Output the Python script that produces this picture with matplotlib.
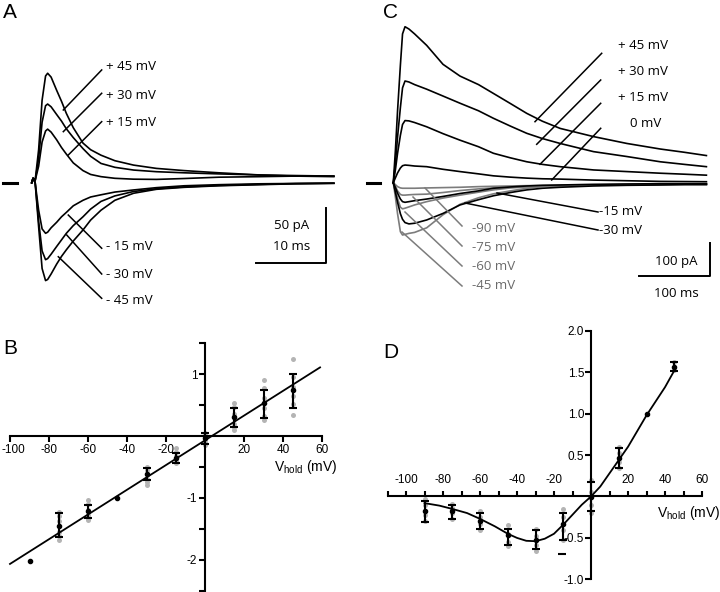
import matplotlib
matplotlib.use("Agg")
import matplotlib.pyplot as plt
from matplotlib.transforms import ScaledTranslation

plt.rcParams['axes.unicode_minus'] = False
plt.rcParams['font.family'] = ['Liberation Sans', 'DejaVu Sans']

W, H = 720, 592
GRAY = '#7c7c7c'
LIGHT = '#b4b4b4'

######################################### DANE
# panel A: time (ms), current (pA)
t_a = [0, 0.2, 0.5, 1.0, 1.5, 2.0, 2.3, 2.8, 3.6, 4.3, 5.0, 6.0, 7.4, 8.5, 10, 12, 14.7, 18, 22, 27, 33, 38, 43.6]
a_p45 = [0, 4, 2, 30, 75, 97, 99.5, 96, 84, 74, 63, 50, 36, 30, 25, 20, 16, 13, 11, 9, 7, 6.5, 6]
a_p30 = [0, 4, 2, 22, 55, 70, 71.5, 69, 62, 56, 49, 41, 31, 24, 17.5, 14, 11.5, 10, 9, 8, 7, 6, 5.5]
a_p15 = [0, 4, 2, 15, 37, 47, 48.7, 46, 39, 32, 26, 18, 11, 7.5, 5.5, 4, 3.2, 3, 3.8, 5, 5.5, 6, 6]
a_m15 = [0, 4, 0, -25, -42, -46, -45, -41, -36, -31, -27, -21, -16, -13, -11, -8.5, -6.6, -4.5, -2.8, -1.8, -1, -0.7, -0.5]
a_m30 = [0, 4, 0, -35, -62, -70, -69, -65, -58, -52, -46, -39, -31, -24, -17, -12, -8, -5.5, -3.8, -2.5, -1.5, -0.8, -0.5]
a_m45 = [0, 4, 0, -40, -78, -89, -88, -83, -74, -67, -61, -53, -43, -34, -25, -16, -9.6, -6, -4.2, -2.8, -1.8, -1, -0.5]
a_labels = ['+ 45 mV', '+ 30 mV', '+ 15 mV', '- 15 mV', '- 30 mV', '- 45 mV']

# panel C: time (ms), current (pA)
t_c = [0, 3, 6, 10, 13, 16.5, 22, 30, 47, 70, 94, 120, 141, 165, 188, 210, 235, 282, 329, 376, 410, 441]
c_p45 = [0, 100, 220, 360, 455, 477, 470, 455, 420, 362, 326, 300, 273, 242, 212, 188, 166, 141, 120, 103, 93, 83]
c_p30 = [0, 60, 140, 230, 290, 311, 308, 300, 286, 265, 243, 220, 197, 173, 151, 135, 120, 95, 80, 64, 56, 49]
c_p15 = [0, 40, 90, 145, 178, 190, 189, 184, 171, 150, 130, 110, 90, 76, 64, 56, 49, 39, 34, 29, 26, 23]
c_0 = [0, 15, 30, 45, 52, 54, 53, 51, 49, 41, 34, 27, 21, 17, 14, 12, 11, 8, 6, 4, 3.5, 3]
c_m15 = [0, -15, -32, -50, -58, -60, -58, -55, -50, -42, -33, -25, -17, -13, -10, -8, -7, -5, -4, -3, -3, -3]
c_m30 = [0, -30, -60, -95, -112, -122, -126, -124, -114, -94, -68, -52, -40, -30, -22, -17, -14, -10, -8, -7, -6, -6]
c_m45 = [0, -45, -95, -150, -160, -158, -155, -152, -138, -98, -66, -46, -34, -25, -17, -12, -9, -7, -5, -4.5, -4, -4]
c_m60 = [0, -22, -48, -75, -80, -78, -74, -68, -58, -47, -38, -29, -22, -16, -13, -11, -10, -8, -6, -5, -5, -5]
c_m75 = [0, -12, -25, -36, -38, -38, -37, -36, -35, -30, -24, -19, -16, -14, -12, -10, -9, -7, -6, -5, -4.5, -4]
c_m90 = [0, -6, -12, -16, -17, -17, -17, -17, -16, -15, -14, -12, -11, -10, -9, -8.5, -8, -7, -6, -5, -4.5, -4]

# panel B: normalised current vs holding potential
b_volt = [-75, -60, -30, -15, 0, 15, 30, 45]
b_mean = [-1.45, -1.22, -0.61, -0.36, -0.04, 0.30, 0.54, 0.74]
b_lo = [-1.64, -1.32, -0.72, -0.43, -0.13, 0.14, 0.29, 0.46]
b_hi = [-1.25, -1.11, -0.52, -0.28, 0.05, 0.45, 0.74, 1.01]
b_cells = [[-1.23, -1.30, -1.38, -1.55, -1.62, -1.69],
           [-1.04, -1.10, -1.20, -1.28, -1.33, -1.36],
           [-0.50, -0.55, -0.62, -0.70, -0.75, -0.79],
           [-0.20, -0.26, -0.32, -0.40, -0.44],
           [0.05, 0.0, -0.05, -0.10, -0.14],
           [0.53, 0.47, 0.35, 0.20, 0.14, 0.09],
           [0.90, 0.78, 0.62, 0.45, 0.32, 0.26],
           [1.25, 0.95, 0.80, 0.65, 0.52, 0.34]]
b_single_v = [-90, -45]
b_single_i = [-2.02, -1.0]
b_fit_v = [-100, 59]
b_fit_i = [-2.07, 1.11]

# panel D
d_volt = [-90, -75, -60, -45, -30, -15, 0, 15, 45]
d_mean = [-0.17, -0.17, -0.29, -0.47, -0.53, -0.33, 0.0, 0.47, 1.57]
d_lo = [-0.305, -0.27, -0.39, -0.59, -0.63, -0.53, -0.18, 0.34, 1.51]
d_hi = [-0.05, -0.10, -0.20, -0.39, -0.40, -0.20, 0.17, 0.59, 1.63]
d_cells = [[-0.03, -0.10, -0.22, -0.30],
           [-0.09, -0.14, -0.20, -0.27],
           [-0.18, -0.25, -0.33, -0.40],
           [-0.35, -0.45, -0.55, -0.60],
           [-0.39, -0.48, -0.58, -0.66],
           [-0.15, -0.25, -0.40, -0.53],
           [0.20, 0.05, -0.10, -0.20],
           [0.60, 0.52, 0.42, 0.35],
           [1.62, 1.57, 1.53]]
d_single_v = [30]
d_single_i = [1.0]
d_out_v = [-15.5]
d_out_i = [-0.69]
d_fit_v = [-90, -82, -75, -67, -60, -52, -45, -40, -35, -30, -25, -20, -15, -10, -5, 0, 5, 10, 15, 20, 30, 40, 44.5]
d_fit_i = [-0.08, -0.11, -0.15, -0.20, -0.27, -0.36, -0.45, -0.50, -0.535, -0.54, -0.51, -0.45, -0.34, -0.22, -0.10, 0.0, 0.12, 0.28, 0.44, 0.60, 0.98, 1.32, 1.50]


######################################### FUNKCJE
def fx(x):
    return x / W

def fy(y):
    return 1 - y / H

def pix_ax(box, x0px, sx, y0px, sy):
    # axes whose data coords map onto the picture: x = x0px + sx*v, y = y0px - sy*v
    l, t, r, b = box
    ax = fig.add_axes([l / W, 1 - b / H, (r - l) / W, (b - t) / H])
    ax.set_xlim((l - x0px) / sx, (r - x0px) / sx)
    ax.set_ylim((y0px - b) / sy, (y0px - t) / sy)
    ax.patch.set_alpha(0)
    return ax

def label(x, y, s, size=9.5, color='black', ha='left', fam='Open Sans'):
    fig.text(fx(x), fy(y), s, fontsize=size, color=color, ha=ha, va='center', family=fam)


fig = plt.figure(figsize=(W / 100, H / 100), dpi=100)

######################################### PANEL A
ax = pix_ax((0, 30, 350, 312), 31.7, 6.93, 182.7, 1.1)
ax.axis('off')
for tr in [a_p45, a_p30, a_p15, a_m15, a_m30, a_m45]:
    ax.plot(t_a, tr, color='black', lw=1.2)
ax.plot([-4.1, -2.1], [0, 0], color='black', lw=2.2)
# leaders
a_lead = [((10.1, 102.5), (4.56, 66.1)), ((10.1, 81.3), (4.56, 46.4)), ((10.1, 55.5), (5.28, 25.2)),
          ((10.1, -59.6), (5.28, -29.4)), ((10.1, -83.0), (5.05, -47.5)), ((10.1, -105.1), (3.84, -67.3))]
for p, q in a_lead:
    ax.plot([p[0], q[0]], [p[1], q[1]], color='black', lw=1.1)
# scale bar 10 ms / 50 pA
ax.plot([32.4, 42.4, 42.4], [-73, -73, -23], color='black', lw=1.4)
for s, y in zip(a_labels, [66.7, 95, 123, 246.5, 274.3, 300]):
    label(106.5, y, s)
label(291.7, 225, '50 pA', ha='center')
label(291.7, 246.7, '10 ms', ha='center')

######################################### PANEL C
ax = pix_ax((360, 0, 720, 312), 393.3, 0.71, 182.7, 0.327)
ax.axis('off')
for tr in [c_m90, c_m75, c_m60, c_m45]:
    ax.plot(t_c, tr, color=GRAY, lw=1.2)
for tr in [c_p45, c_p30, c_p15, c_0, c_m15, c_m30]:
    ax.plot(t_c, tr, color='black', lw=1.2)
ax.plot([-37, -18.7], [0, 0], color='black', lw=2.2)

def cpt(x, y):
    return ((x - 393.3) / 0.71, (182.7 - y) / 0.327)

c_lead_black = [((601.7, 53.3), (535, 121.7)), ((600.7, 80), (536.7, 144.3)),
                ((600.7, 103.3), (540, 164.3)), ((600.7, 128.3), (551.7, 180)),
                ((598, 212), (497, 193)), ((598, 230), (465, 203))]
c_lead_gray = [((462, 226), (425, 188)), ((462, 246), (413, 197)),
               ((462, 266), (405, 212)), ((462, 286), (402, 232))]
for lead, col in [(c_lead_black, 'black'), (c_lead_gray, GRAY)]:
    for p, q in lead:
        a, b = cpt(*p), cpt(*q)
        ax.plot([a[0], b[0]], [a[1], b[1]], color=col, lw=1.1)
h0, v0 = cpt(639, 275.7)
h1, v1 = cpt(710, 243)
ax.plot([h0, h1, h1], [v0, v0, v1], color='black', lw=1.4)

label(618.3, 45.7, '+ 45 mV')
label(618.3, 71.7, '+ 30 mV')
label(618.3, 97.7, '+ 15 mV')
label(630, 123.3, '0 mV')
label(599, 211.7, '-15 mV')
label(599, 230, '-30 mV')
for s, y in zip(['-90 mV', '-75 mV', '-60 mV', '-45 mV'], [228.3, 247.7, 266.7, 285.7]):
    label(471.5, y, s, color='#6a6a6a')
label(676, 261.7, '100 pA', ha='center')
label(676, 293.3, '100 ms', ha='center')

######################################### PANEL B
ax = pix_ax((0, 335, 340, 592), 205, 1.95, 436, 61.8)
for sp in ['top', 'right']:
    ax.spines[sp].set_visible(False)
ax.spines['left'].set_position(('data', 0))
ax.spines['bottom'].set_position(('data', 0))
ax.spines['left'].set_bounds(-2.5, 1.5)
ax.spines['bottom'].set_bounds(-100, 60)
for sp in ['left', 'bottom']:
    ax.spines[sp].set_linewidth(1.5)
ax.set_xticks([-100, -80, -60, -40, -20, 20, 40, 60])
ax.set_yticks([-2, -1, 1])
ax.set_yticks([-2.5, -1.5, -0.5, 0.5, 1.5], minor=True)
ax.tick_params(axis='both', which='both', length=4.5, width=1.5, labelsize=8.5, pad=1)
# the -100 label sits against the left edge, as in the original
first = ax.xaxis.get_major_ticks()[0].label1
first.set_transform(first.get_transform() + ScaledTranslation(0.03, 0, fig.dpi_scale_trans))
for v, cells in zip(b_volt, b_cells):
    ax.plot([v] * len(cells), cells, 'o', color=LIGHT, ms=3.6, mec='none', zorder=2)
ax.plot(b_fit_v, b_fit_i, color='black', lw=1.3, zorder=3)
ax.errorbar(b_volt, b_mean, yerr=[[m - l for m, l in zip(b_mean, b_lo)], [h - m for m, h in zip(b_mean, b_hi)]],
            fmt='o', color='black', ms=3, elinewidth=1.5, capsize=3, capthick=1.5, zorder=4)
ax.plot(b_single_v, b_single_i, 'o', color='black', ms=3, zorder=4)
fig.text(fx(306), fy(467), r'V$_{\mathregular{hold}}$ (mV)', fontsize=10, ha='center', va='center')

######################################### PANEL D
ax = pix_ax((380, 320, 720, 592), 591, 1.85, 496.5, 82.8)
for sp in ['bottom', 'right']:
    ax.spines[sp].set_visible(False)
ax.spines['left'].set_position(('data', 0))
ax.spines['top'].set_position(('data', 0))
ax.spines['left'].set_bounds(-1, 2)
ax.spines['top'].set_bounds(-110, 60)
for sp in ['left', 'top']:
    ax.spines[sp].set_linewidth(1.5)
ax.xaxis.tick_top()
ax.set_xticks([-100, -80, -60, -40, -20, 20, 40, 60])
ax.set_xticks([-110, -90, -70, -50, -30, -10, 10, 30, 50], minor=True)
ax.set_yticks([-1.0, -0.5, 0.5, 1.0, 1.5, 2.0])
ax.set_yticklabels(['-1.0', '-0.5', '0.5', '1.0', '1.5', '2.0'])
ax.tick_params(axis='x', which='both', length=3.5, width=1.5, labelsize=8.5, pad=4)
ax.tick_params(axis='y', which='both', length=4, width=1.5, labelsize=8.5, pad=1)
for v, cells in zip(d_volt, d_cells):
    ax.plot([v] * len(cells), cells, 'o', color=LIGHT, ms=3.6, mec='none', zorder=2)
ax.plot(d_fit_v, d_fit_i, color='black', lw=1.3, zorder=3)
ax.errorbar(d_volt, d_mean, yerr=[[m - l for m, l in zip(d_mean, d_lo)], [h - m for m, h in zip(d_mean, d_hi)]],
            fmt='o', color='black', ms=3, elinewidth=1.5, capsize=3, capthick=1.5, zorder=4)
ax.plot(d_single_v, d_single_i, 'o', color='black', ms=3, zorder=4)
ax.plot(d_out_v, d_out_i, '_', color='black', ms=6, mew=1.5, zorder=4)
fig.text(fx(657), fy(513), r'V$_{\mathregular{hold}}$ (mV)', fontsize=10, ha='left', va='center')

######################################### LITERY
for s, x, y in [('A', 10, 12), ('C', 391, 12), ('B', 10, 349), ('D', 391, 352)]:
    fig.text(fx(x), fy(y), s, fontsize=15, ha='center', va='center')

fig.savefig('out.png', dpi=100)
